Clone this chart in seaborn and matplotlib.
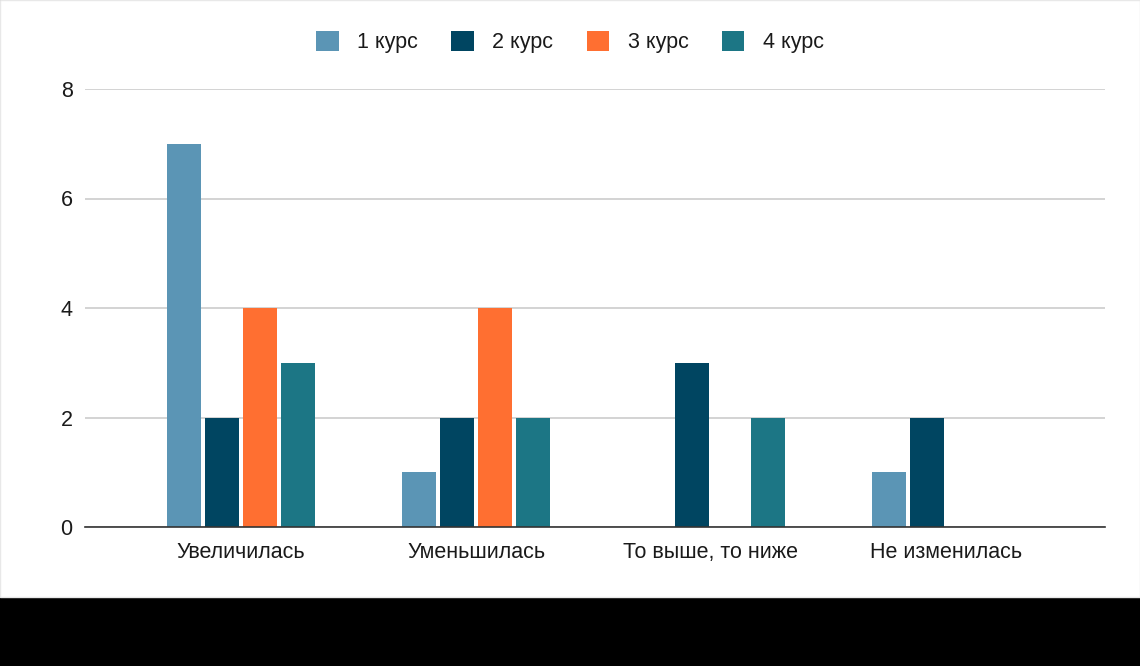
import pandas as pd
import seaborn as sns
import matplotlib.pyplot as plt
from matplotlib.patches import Rectangle

# данные с графика
categorias = ['Увеличилась', 'Уменьшилась', 'То выше, то ниже', 'Не изменилась']
cursos = ['1 курс', '2 курс', '3 курс', '4 курс']
curso1 = [7, 1, 0, 1]
curso2 = [2, 2, 3, 2]
curso3 = [4, 4, 0, 0]
curso4 = [3, 2, 2, 0]
cores = ['#5b95b5', '#004561', '#ff6f31', '#1c7685']

df = pd.DataFrame({'cat': categorias, '1 курс': curso1, '2 курс': curso2,
                   '3 курс': curso3, '4 курс': curso4})
df = df.melt(id_vars='cat', var_name='curso', value_name='n')

sns.set_style('white')
plt.rcParams['font.family'] = ['Liberation Sans', 'DejaVu Sans']

fig = plt.figure(figsize=(11.4, 6.66), dpi=100, facecolor='black')
# parte branca em cima, faixa preta embaixo
fig.patches.append(Rectangle((0, 69 / 666), 1, 1 - 69 / 666, transform=fig.transFigure,
                             facecolor='white', edgecolor='#e8e8e8', lw=1, zorder=-1))

ax = fig.add_axes([85 / 1140, 139 / 666, 1020 / 1140, 438 / 666])
ax.set_facecolor('none')

sns.barplot(data=df, x='cat', y='n', hue='curso', order=categorias, hue_order=cursos,
            palette=cores, width=0.647, gap=0.105, ax=ax, saturation=1, linewidth=0)

ax.set_ylim(0, 8)
ax.set_xlim(-0.664, 3.677)
ax.set_yticks([0, 2, 4, 6, 8])
ax.yaxis.grid(True, color='#cccccc', lw=1.2)
ax.set_axisbelow(True)
for s in ['left', 'right', 'top']:
    ax.spines[s].set_visible(False)
ax.spines['bottom'].set_color('#333333')
ax.spines['bottom'].set_linewidth(1.2)
ax.tick_params(axis='both', length=0, labelsize=15.5, colors='#1a1a1a')
ax.tick_params(axis='y', pad=9)
ax.tick_params(axis='x', pad=10.5)
ax.set_xlabel('')
ax.set_ylabel('')

handles, labels = ax.get_legend_handles_labels()
ax.get_legend().remove()
fig.legend(handles, labels, loc='center', bbox_to_anchor=(0.5, 1 - 42 / 666), ncol=4,
           frameon=False, fontsize=15.5, handlelength=1.05, handleheight=1.05,
           columnspacing=1.55, handletextpad=0.85, labelcolor='#1a1a1a')

fig.savefig('out.png', dpi=100, facecolor=fig.get_facecolor())
